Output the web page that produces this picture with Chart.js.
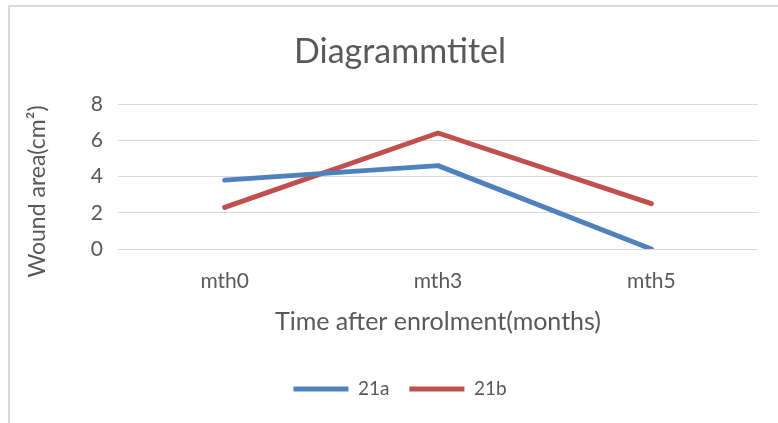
<!DOCTYPE html>
<html><head><meta charset="utf-8">
<script src="https://cdn.jsdelivr.net/npm/chart.js@4"></script>
<style>
html,body{margin:0;padding:0;background:#fff;}
#wrap{position:relative;width:778px;height:423px;overflow:hidden;}
#frame{position:absolute;left:8px;top:5px;width:800px;height:500px;border-left:2px solid #d9d9d9;border-top:2px solid #d9d9d9;box-sizing:border-box;}
canvas{position:absolute;left:0;top:0;}
</style></head>
<body>
<div id="wrap"><div id="frame"></div><canvas id="c" width="778" height="423"></canvas></div>
<script>
const categories = ["mth0", "mth3", "mth5"];
const series21a = [3.8, 4.6, 0];
const series21b = [2.3, 6.4, 2.5];
const yTicks = [0, 2, 4, 6, 8];
const yTitle = "Wound area(cm²)";

const FONT = "Lato";
const GREY = "#595959";

// Y-axis title drawn as real text, centred a bit below the plot centre (as in the reference)
const yTitlePlugin = {
  id: "yTitle",
  afterDraw(chart) {
    const {ctx, chartArea} = chart;
    const cy = (chartArea.top + chartArea.bottom) / 2 + 15;
    ctx.save();
    ctx.translate(38, cy);
    ctx.rotate(-Math.PI / 2);
    ctx.font = "23px " + FONT;
    ctx.fillStyle = GREY;
    ctx.textAlign = "center";
    ctx.textBaseline = "middle";
    ctx.fillText(yTitle, 0, 0);
    ctx.restore();
  }
};

new Chart(document.getElementById("c"), {
  type: "line",
  data: {
    labels: categories,
    datasets: [
      {label: "21a", data: series21a, borderColor: "#4F81BD", backgroundColor: "#4F81BD", borderWidth: 5, pointRadius: 0, borderCapStyle: "round", borderJoinStyle: "round", tension: 0},
      {label: "21b", data: series21b, borderColor: "#C0504D", backgroundColor: "#C0504D", borderWidth: 5, pointRadius: 0, borderCapStyle: "round", borderJoinStyle: "round", tension: 0}
    ]
  },
  plugins: [yTitlePlugin],
  options: {
    responsive: false,
    animation: false,
    layout: {padding: {left: 42, right: 20, top: 0, bottom: 14.5}},
    plugins: {
      title: {display: true, text: "Diagrammtitel", color: GREY, font: {family: FONT, size: 34, weight: "normal"}, padding: {top: 31.6, bottom: 31.6}},
      legend: {position: "bottom", labels: {usePointStyle: true, pointStyle: "line", pointStyleWidth: 55, boxHeight: 19, color: GREY, font: {family: FONT, size: 19}, padding: 20}},
      tooltip: {enabled: false}
    },
    scales: {
      x: {
        offset: true,
        grid: {display: false, drawTicks: false},
        border: {display: false},
        ticks: {color: GREY, font: {family: FONT, size: 21}, padding: 20},
        title: {display: true, text: "Time after enrolment(months)", color: GREY, font: {family: FONT, size: 25}, padding: {top: 0, bottom: 22.5}},
        afterFit: s => { s.height = 110.5; }
      },
      y: {
        min: 0, max: 8,
        afterBuildTicks: s => { s.ticks = yTicks.map(v => ({value: v})); },
        grid: {color: "#d9d9d9", lineWidth: 1, drawTicks: false},
        border: {display: false},
        ticks: {color: GREY, font: {family: FONT, size: 21}, padding: 15},
        title: {display: false},
        afterFit: s => { s.width = 76; }
      }
    }
  }
});
</script>
</body></html>
